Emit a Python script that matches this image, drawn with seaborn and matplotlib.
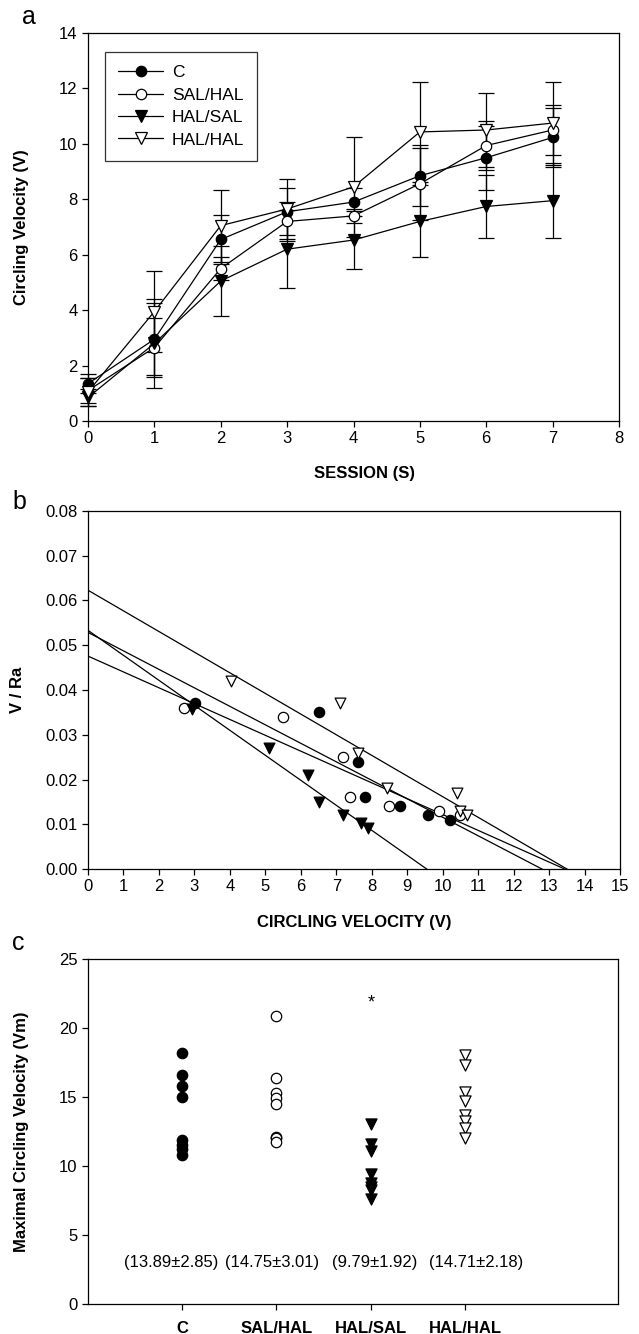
import numpy as np
import pandas as pd
import matplotlib
matplotlib.use("Agg")
import matplotlib.pyplot as plt
import seaborn as sns

# ---------------- data ----------------
groups = ["C", "SAL/HAL", "HAL/SAL", "HAL/HAL"]
sessions = [0, 1, 2, 3, 4, 5, 6, 7]

c_mean = [1.35, 2.95, 6.55, 7.55, 7.90, 8.85, 9.50, 10.23]
c_sem = [0.35, 1.30, 0.90, 0.85, 0.50, 1.10, 1.15, 1.05]
salhal_mean = [1.10, 2.65, 5.50, 7.20, 7.40, 8.56, 9.94, 10.50]
salhal_sem = [0.45, 1.05, 0.40, 0.70, 0.25, 1.30, 0.90, 0.90]
halsal_mean = [0.85, 2.80, 5.05, 6.20, 6.53, 7.20, 7.74, 7.95]
halsal_sem = [0.30, 1.60, 1.25, 1.40, 1.05, 1.30, 1.15, 1.35]
halhal_mean = [1.05, 3.95, 7.05, 7.65, 8.45, 10.43, 10.50, 10.75]
halhal_sem = [0.50, 1.45, 1.30, 1.10, 1.80, 1.80, 1.35, 1.50]

# panel b: V vs V/Ra
b_c_v = [3.02, 6.50, 7.60, 7.80, 8.80, 9.60, 10.20]
b_c_r = [0.037, 0.035, 0.024, 0.016, 0.014, 0.012, 0.011]
b_salhal_v = [2.70, 5.50, 7.20, 7.40, 8.50, 9.90, 10.50]
b_salhal_r = [0.036, 0.034, 0.025, 0.016, 0.014, 0.013, 0.012]
b_halsal_v = [2.93, 5.10, 6.20, 6.50, 7.20, 7.70, 7.90]
b_halsal_r = [0.0357, 0.027, 0.021, 0.015, 0.012, 0.0103, 0.0092]
b_halhal_v = [4.03, 7.10, 7.60, 8.43, 10.40, 10.50, 10.70]
b_halhal_r = [0.042, 0.037, 0.026, 0.018, 0.017, 0.013, 0.012]

# panel c: maximal circling velocity
c_vm_c = [18.2, 16.6, 15.8, 15.0, 11.85, 11.55, 11.2, 10.8]
c_vm_salhal = [20.9, 16.35, 15.3, 14.95, 14.5, 12.12, 12.0, 11.76]
c_vm_halsal = [13.04, 11.6, 11.1, 9.4, 8.76, 8.5, 8.26, 7.6]
c_vm_halhal = [18.07, 17.3, 15.38, 14.73, 13.7, 13.28, 12.78, 12.05]
c_labels = ["(13.89\u00b12.85)", "(14.75\u00b13.01)", "(9.79\u00b11.92)", "(14.71\u00b12.18)"]
star_value = 21.8

# ---------------- style ----------------
sns.set_theme(style="ticks")
plt.rcParams["font.family"] = ["Liberation Sans", "DejaVu Sans"]
plt.rcParams.update({
    "text.color": "black",
    "axes.labelcolor": "black",
    "axes.edgecolor": "black",
    "axes.linewidth": 0.9,
    "xtick.color": "black",
    "ytick.color": "black",
    "xtick.major.size": 4,
    "ytick.major.size": 4,
    "xtick.major.width": 0.9,
    "ytick.major.width": 0.9,
    "xtick.labelsize": 12,
    "ytick.labelsize": 12,
    "axes.labelsize": 12,
    "axes.labelweight": "bold",
})

styles = {
    "C": dict(marker="o", mfc="black"),
    "SAL/HAL": dict(marker="o", mfc="white"),
    "HAL/SAL": dict(marker="v", mfc="black"),
    "HAL/HAL": dict(marker="v", mfc="white"),
}

fig = plt.figure(figsize=(6.39, 13.34), dpi=100)
W, H = 639, 1334


def axes_px(l, t, r, b):
    return fig.add_axes([l / W, 1 - b / H, (r - l) / W, (b - t) / H])


# ---------------- panel a ----------------
axa = axes_px(88, 33, 619, 421)
means = [c_mean, salhal_mean, halsal_mean, halhal_mean]
sems = [c_sem, salhal_sem, halsal_sem, halhal_sem]
for g, m, s in zip(groups, means, sems):
    eb = axa.errorbar(sessions, m, yerr=s, fmt="none", ecolor="black",
                      elinewidth=0.9, capsize=5.5, capthick=0.9, zorder=2)
    for art in eb.get_children():
        art.set_clip_on(False)
for g, m in zip(groups, means):
    sns.lineplot(x=sessions, y=m, ax=axa, color="black", lw=0.9,
                 marker=styles[g]["marker"], markersize=8 if styles[g]["marker"] == "v" else 7.5,
                 markerfacecolor=styles[g]["mfc"], markeredgecolor="black",
                 markeredgewidth=0.9, label=g, zorder=3, clip_on=False)
axa.set_xlim(0, 8)
axa.set_ylim(0, 14)
axa.set_xticks(range(0, 9))
axa.set_yticks(range(0, 15, 2))
axa.set_xlabel("SESSION (S)")
axa.xaxis.set_label_coords(0.52, -0.115)
axa.set_ylabel("Circling Velocity (V)")
axa.yaxis.set_label_coords(-0.111, 0.5)
leg = axa.legend(loc="upper left", bbox_to_anchor=(0.032, 0.951), borderaxespad=0,
                 frameon=True, fancybox=False, edgecolor="black", fontsize=12.5,
                 handlelength=2.6, borderpad=0.75, labelspacing=0.42,
                 handletextpad=0.5)
leg.get_frame().set_linewidth(0.9)

# ---------------- panel b ----------------
axb = axes_px(88, 511, 620, 869)
axb.set_xlim(0, 15)
axb.set_ylim(0, 0.08)
bv = [b_c_v, b_salhal_v, b_halsal_v, b_halhal_v]
br = [b_c_r, b_salhal_r, b_halsal_r, b_halhal_r]
for g, v, r in zip(groups, bv, br):
    sns.regplot(x=v, y=r, ax=axb, scatter=False, ci=None, truncate=False,
                line_kws=dict(color="black", lw=0.9))
axb.set_xlim(0, 15)
axb.set_ylim(0, 0.08)
for g, v, r in zip(groups, bv, br):
    sns.scatterplot(x=v, y=r, ax=axb, marker=styles[g]["marker"],
                    s=55 if styles[g]["marker"] == "o" else 60,
                    facecolor=styles[g]["mfc"], edgecolor="black",
                    linewidth=0.9, zorder=4)
axb.set_xticks(range(0, 16))
axb.set_yticks(np.arange(0, 0.081, 0.01))
axb.yaxis.set_major_formatter(matplotlib.ticker.FormatStrFormatter("%.2f"))
axb.set_xlabel("CIRCLING VELOCITY (V)", labelpad=15)
axb.set_ylabel("V / Ra")
axb.yaxis.set_label_coords(-0.118, 0.5)

# ---------------- panel c ----------------
axc = axes_px(88, 959, 618, 1304)
vms = [c_vm_c, c_vm_salhal, c_vm_halsal, c_vm_halhal]
for g, v in zip(groups, vms):
    sns.stripplot(x=[g] * len(v), y=v, order=groups, ax=axc, jitter=False,
                  marker=styles[g]["marker"], size=8 if styles[g]["marker"] == "v" else 7.5,
                  color=styles[g]["mfc"], edgecolor="black", linewidth=0.9)
axc.set_xlim(-0.997, 4.62)
axc.set_ylim(0, 25)
axc.set_yticks(range(0, 26, 5))
axc.set_xticks(range(len(groups)))
axc.set_xticklabels(groups, fontweight="bold")
axc.tick_params(axis="x", pad=8)
label_dx = [-0.12, -0.05, 0.04, 0.12]
for i, (lab, dx) in enumerate(zip(c_labels, label_dx)):
    axc.text(i + dx, 3.0, lab, ha="center", va="center", fontsize=12)
axc.text(2, star_value, "*", ha="center", va="center", fontsize=13)
axc.set_xlabel("")
axc.set_ylabel("Maximal Circling Velocity (Vm)")
axc.yaxis.set_label_coords(-0.111, 0.5)

for ax in (axa, axb, axc):
    for sp in ax.spines.values():
        sp.set_visible(True)
        sp.set_color("black")
        sp.set_linewidth(0.9)
    ax.tick_params(direction="out", top=False, right=False)

# panel letters
fig.text(22 / W, 1 - 17 / H, "a", fontsize=18, ha="left", va="center")
fig.text(12 / W, 1 - 502 / H, "b", fontsize=18, ha="left", va="center")
fig.text(12 / W, 1 - 943 / H, "c", fontsize=18, ha="left", va="center")

fig.savefig("out.png", dpi=100)
